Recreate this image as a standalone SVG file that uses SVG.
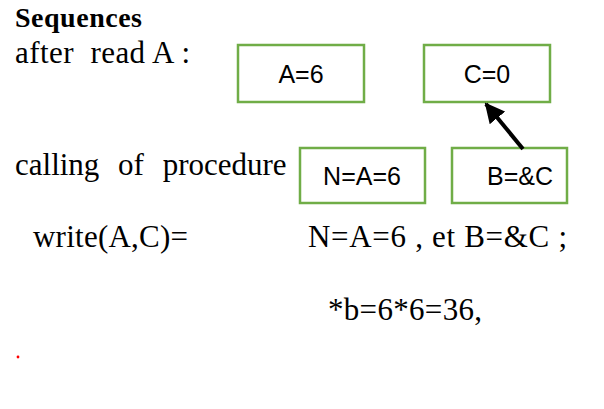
<svg xmlns="http://www.w3.org/2000/svg" width="604" height="409" viewBox="0 0 604 409">
  <defs>
    <style>
      .serif { font-family: "Liberation Serif", "Times New Roman", serif; font-size: 31px; fill: #000; }
      .title { font-family: "Liberation Serif", "Times New Roman", serif; font-size: 28px; font-weight: bold; fill: #000; }
      .box rect { fill: #fff; stroke: #70ad47; stroke-width: 2.5; }
      .box text { font-family: "Liberation Sans", Arial, sans-serif; font-size: 25px; fill: #000; text-anchor: middle; }
    </style>
    <marker id="arrowhead" viewBox="0 0 10 10" refX="9" refY="5" markerWidth="5" markerHeight="5" orient="auto">
      <path d="M0,0 L10,5 L0,10 z" fill="#000"/>
    </marker>
  </defs>
  <rect width="604" height="409" fill="#fff"/>

  <!-- labels -->
  <text class="title" x="15" y="27" textLength="127">Sequences</text>
  <text class="serif" x="15" y="63" xml:space="preserve" textLength="175">after  read A :</text>
  <text class="serif" x="15" y="175" word-spacing="11">calling of procedure</text>
  <text class="serif" x="33" y="247" textLength="155">write(A,C)=</text>
  <text class="serif" x="308" y="247" textLength="259">N=A=6 , et B=&amp;C ;</text>
  <text class="serif" x="328" y="320" textLength="154">*b=6*6=36,</text>
  <circle cx="18" cy="357" r="1.4" fill="#ff0000"/>

  <!-- nodes -->
  <g id="nodeA" class="box">
    <rect x="238" y="45" width="126" height="57"/>
    <text x="301" y="83">A=6</text>
  </g>
  <g id="nodeC" class="box">
    <rect x="424" y="45" width="126" height="57"/>
    <text x="487" y="83">C=0</text>
  </g>
  <g id="nodeN" class="box">
    <rect x="300" y="148" width="125" height="55"/>
    <text x="362" y="185">N=A=6</text>
  </g>
  <g id="nodeB" class="box">
    <rect x="452" y="148" width="115" height="55"/>
    <text x="520" y="185">B=&amp;C</text>
  </g>

  <!-- connectors -->
  <g id="connectors">
    <line x1="523" y1="149" x2="486" y2="104" stroke="#000" stroke-width="4" marker-end="url(#arrowhead)"/>
  </g>
</svg>
